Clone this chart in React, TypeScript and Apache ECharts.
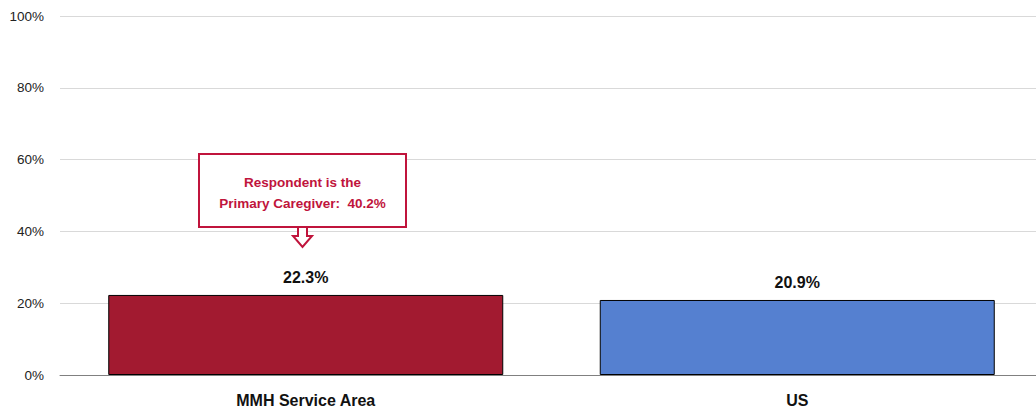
import React, { useEffect, useRef } from "react";
import * as echarts from "echarts";

const categories = ["MMH Service Area", "US"];
const values = [22.3, 20.9];
const barColors = ["#A21A30", "#5580D0"];
const yTicks = [0, 20, 40, 60, 80, 100];
const calloutLines = ["Respondent is the", "Primary Caregiver:  40.2%"];

const FONT = "'Liberation Sans', Arial, sans-serif";
const RED = "#C0143C";

export default function App() {
  const ref = useRef<HTMLDivElement>(null);
  useEffect(() => {
    if (!ref.current) return;
    const chart = echarts.init(ref.current, null, { renderer: "svg" });
    chart.setOption({
      animation: false,
      grid: {
        left: 60,
        width: 983,
        top: 16,
        bottom: 38,
        containLabel: false,
        outerBoundsMode: "none",
      },
      xAxis: {
        type: "category",
        data: categories,
        axisTick: { show: false },
        axisLine: { lineStyle: { color: "#808080", width: 1 } },
        axisLabel: {
          margin: 17,
          fontFamily: FONT,
          fontWeight: "bold",
          fontSize: 16,
          color: "#111",
        },
      },
      yAxis: {
        type: "value",
        min: yTicks[0],
        max: yTicks[yTicks.length - 1],
        interval: 20,
        axisLine: { show: false },
        axisTick: { show: false },
        splitLine: { lineStyle: { color: "#D9D9D9", width: 1 } },
        axisLabel: {
          margin: 16,
          formatter: "{value}%",
          fontFamily: FONT,
          fontSize: 13.5,
          color: "#222",
        },
      },
      series: [
        {
          type: "bar",
          barWidth: 395,
          data: values.map((v, i) => ({
            value: v,
            itemStyle: { color: barColors[i], borderColor: "#000", borderWidth: 1 },
          })),
          label: {
            show: true,
            position: "top",
            distance: 9,
            formatter: (p: any) => p.value.toFixed(1) + "%",
            fontFamily: FONT,
            fontWeight: "bold",
            fontSize: 16,
            color: "#111",
          },
        },
      ],
      graphic: [
        {
          type: "rect",
          shape: { x: 199, y: 154, width: 207, height: 73 },
          style: { fill: "#fff", stroke: RED, lineWidth: 2 },
          z: 100,
        },
        {
          type: "text",
          x: 302.5,
          y: 193,
          style: {
            text: calloutLines.join("\n"),
            fill: RED,
            font: `bold 13.5px ${FONT}`,
            align: "center",
            verticalAlign: "middle",
            lineHeight: 21,
          },
          z: 101,
        },
        {
          type: "polygon",
          shape: {
            points: [
              [298, 227],
              [298, 236],
              [293, 236],
              [302.5, 247],
              [312, 236],
              [307, 236],
              [307, 227],
            ],
          },
          style: { fill: "#fff", stroke: RED, lineWidth: 2 },
          z: 100,
        },
      ],
    });
    return () => chart.dispose();
  }, []);
  return (
    <div
      ref={ref}
      style={{ position: "fixed", left: 0, top: 0, width: 1036, height: 413, background: "#fff" }}
    />
  );
}
